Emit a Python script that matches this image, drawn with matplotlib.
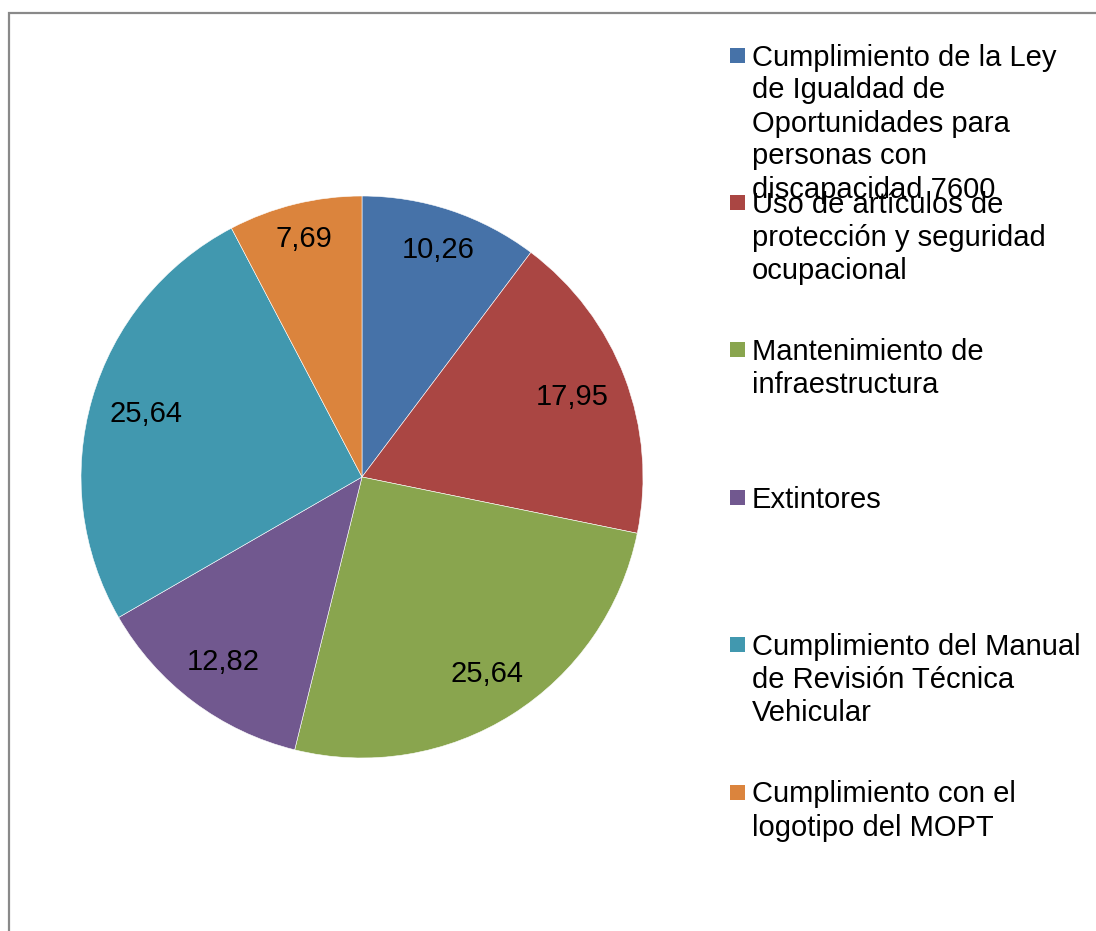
import matplotlib
matplotlib.use("Agg")
import matplotlib.pyplot as plt
from matplotlib.patches import Rectangle
import numpy as np

categories = [
    "Cumplimiento de la Ley\nde Igualdad de\nOportunidades para\npersonas con\ndiscapacidad 7600",
    "Uso de artículos de\nprotección y seguridad\nocupacional",
    "Mantenimiento de\ninfraestructura",
    "Extintores",
    "Cumplimiento del Manual\nde Revisión Técnica\nVehicular",
    "Cumplimiento con el\nlogotipo del MOPT",
]
values = [10.26, 17.95, 25.64, 12.82, 25.64, 7.69]
colors = ["#4672A8", "#AA4643", "#89A54E", "#71588F", "#4198AF", "#DB843D"]

plt.rcParams['font.family'] = ['Liberation Sans', 'DejaVu Sans']

W, H = 1096, 931
fig = plt.figure(figsize=(W / 100, H / 100), dpi=100)
fig.patch.set_facecolor("white")

# frame
frame = Rectangle((9 / W, -0.5), 2.0, 1.5 - 13 / H, transform=fig.transFigure,
                  fill=False, edgecolor="#898989", linewidth=1.6)
fig.patches.append(frame)

cx, cy, r = 362, 477, 281
ax = fig.add_axes([(cx - r) / W, (H - cy - r) / H, 2 * r / W, 2 * r / H])
ax.set_aspect("equal")
ax.axis("off")

wedges, _ = ax.pie(values, colors=colors, startangle=90, counterclock=False,
                   radius=1.0, wedgeprops=dict(edgecolor="white", linewidth=0.4))
ax.set_xlim(-1, 1)
ax.set_ylim(-1, 1)

renderer = fig.canvas.get_renderer()
corner_r = 263.0 / r
for w, v in zip(wedges, values):
    ang = np.deg2rad((w.theta1 + w.theta2) / 2)
    t = ax.text(0, 0, f"{v:.2f}".replace(".", ","),
                ha="center", va="center", fontsize=21, color="black")
    bb = t.get_window_extent(renderer)
    hw = bb.width / 2 / r
    hh = bb.height / 2 / r * 0.75
    c, s = np.cos(ang), np.sin(ang)
    sx, sy = np.sign(c) * hw, np.sign(s) * hh
    # solve |(d c + sx, d s + sy)| = corner_r
    b = 2 * (c * sx + s * sy)
    cc = sx * sx + sy * sy - corner_r ** 2
    d = (-b + np.sqrt(b * b - 4 * cc)) / 2
    t.set_position((d * c, d * s))

# legend
first_center = 55.0
step = 147.4
sq = 15
line_h = 33
for i, (lab, c) in enumerate(zip(categories, colors)):
    yc = first_center + i * step
    fig.patches.append(Rectangle(((737.5 - sq / 2) / W, (H - yc - sq / 2) / H),
                                 sq / W, sq / H, transform=fig.transFigure,
                                 facecolor=c, edgecolor="none"))
    for j, line in enumerate(lab.split("\n")):
        yb = yc + 10.5 + j * line_h
        fig.text(752 / W, (H - yb) / H, line, ha="left", va="baseline",
                 fontsize=21, color="black")

fig.savefig("out.png", dpi=100)
